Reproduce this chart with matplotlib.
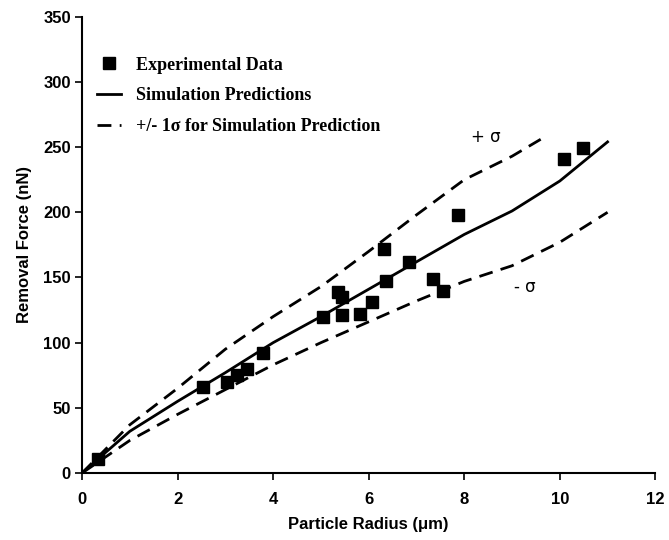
import numpy as np
import matplotlib.pyplot as plt

# experimental data (particle radius in um, removal force in nN)
exp_r = [0.34, 2.53, 3.03, 3.24, 3.45, 3.79, 5.05, 5.35, 5.45, 5.45, 5.81, 6.06,
         6.32, 6.36, 6.84, 7.35, 7.56, 7.87, 10.08, 10.48]
exp_f = [11, 66, 70, 75, 80, 92, 120, 139, 135, 121, 122, 131,
         172, 147, 162, 149, 140, 198, 241, 249]

# simulation prediction and +/- 1 sigma
sim_r = [0, 1, 2, 3, 4, 5, 6, 7, 8, 9, 10, 11]
sim_f = [0, 32, 55, 77, 100, 120, 141, 162, 183, 201, 224, 254]
up_r = [0, 1, 2, 3, 4, 5, 6, 7, 8, 9, 9.6]
up_f = [0, 37, 65, 95, 120, 143, 170, 198, 225, 243, 256]
lo_r = [0, 1, 2, 3, 4, 5, 6, 7, 8, 9, 10, 11]
lo_f = [0, 25, 45, 64, 83, 100, 116, 132, 147, 159, 177, 200]

fig = plt.figure(figsize=(6.69, 5.4), dpi=100)
ax = fig.add_axes([0.1226, 0.124, 0.857, 0.845])

dash = (0, (5, 3))
ax.plot(up_r, up_f, color='black', lw=2, linestyle=dash)
lo_line, = ax.plot(lo_r, lo_f, color='black', lw=2, linestyle=dash,
                   label='+/- 1\u03c3 for Simulation Prediction')
sim_line, = ax.plot(sim_r, sim_f, color='black', lw=2, label='Simulation Predictions')
exp_pts, = ax.plot(exp_r, exp_f, 's', color='black', ms=8, linestyle='none',
                   label='Experimental Data')

ax.text(8.15, 258, '+ \u03c3', fontsize=12, va='center', ha='left', family='DejaVu Sans')
ax.text(9.05, 143, '- \u03c3', fontsize=12, va='center', ha='left', family='DejaVu Sans')

ax.set_xlim(0, 12)
ax.set_ylim(0, 350)
ax.set_xticks(np.arange(0, 13, 2))
ax.set_yticks(np.arange(0, 351, 50))
for s in ['top', 'right']:
    ax.spines[s].set_visible(False)
for s in ['left', 'bottom']:
    ax.spines[s].set_linewidth(1.5)
ax.tick_params(direction='out', length=5, width=1.2, labelsize=12)
ax.tick_params(axis='x', pad=9)
ax.tick_params(axis='y', pad=3)
for lab in ax.get_xticklabels() + ax.get_yticklabels():
    lab.set_fontweight('bold')
    lab.set_family('Liberation Sans')

ax.set_xlabel('Particle Radius (\u03bcm)', fontsize=12, fontweight='bold',
              family='Liberation Sans', labelpad=7)
ax.set_ylabel('Removal Force (nN)', fontsize=12, fontweight='bold',
              family='Liberation Sans', labelpad=8)

ax.legend(handles=[exp_pts, sim_line, lo_line], loc='upper left',
          bbox_to_anchor=(0.014, 0.928), borderaxespad=0, frameon=False,
          handlelength=1.3, handletextpad=0.85, labelspacing=0.75,
          prop={'family': 'Liberation Serif', 'weight': 'bold', 'size': 13})

fig.savefig('out.png', dpi=100)
